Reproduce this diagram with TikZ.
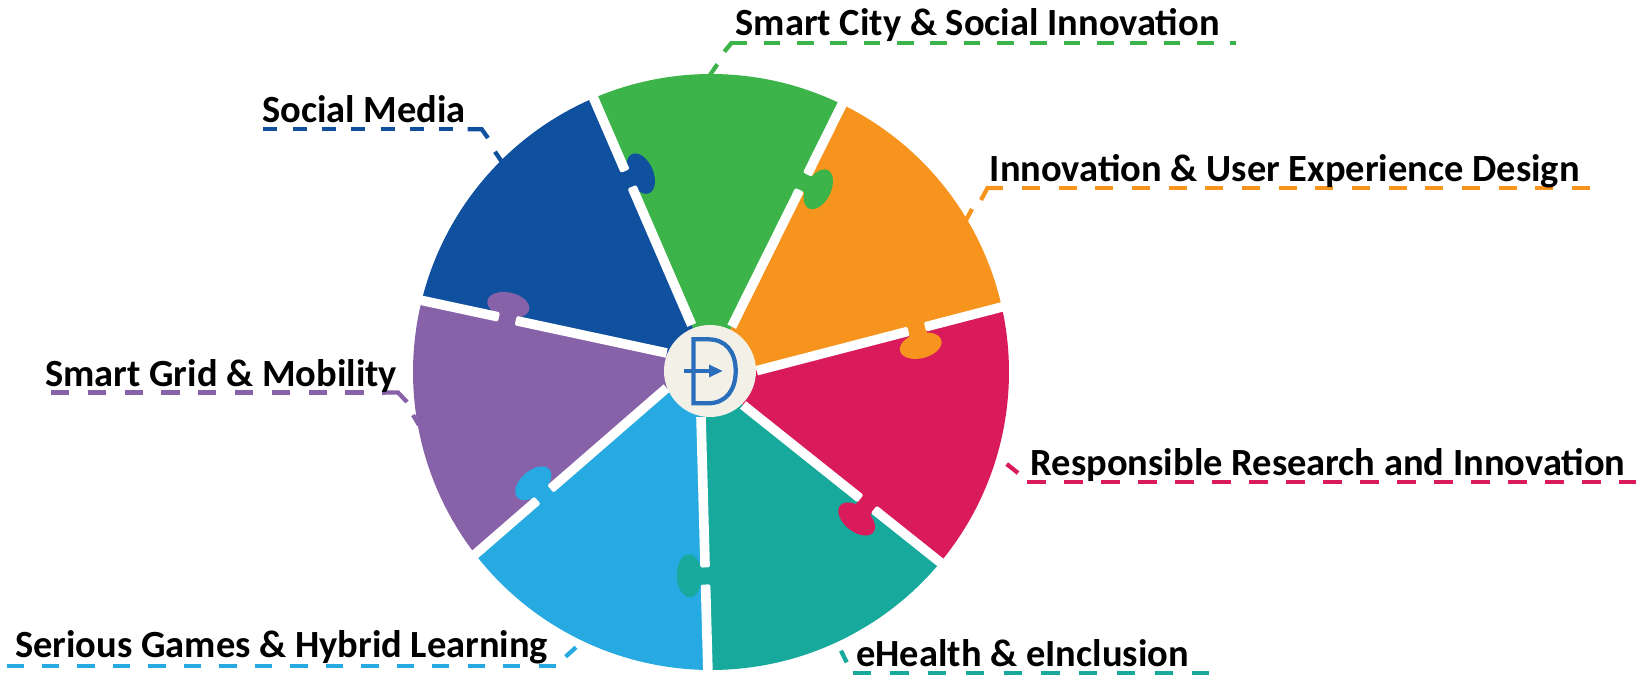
\documentclass[tikz,border=0pt]{standalone}
\usepackage{fontspec}
\setmainfont{Carlito}
\usetikzlibrary{calc,arrows.meta}
\definecolor{cblue}{HTML}{0F509F}
\definecolor{cgreen}{HTML}{3CB44A}
\definecolor{corange}{HTML}{F7941D}
\definecolor{cred}{HTML}{D91B5C}
\definecolor{cteal}{HTML}{16A99C}
\definecolor{clight}{HTML}{27AAE1}
\definecolor{cpurple}{HTML}{8862A8}
\definecolor{chub}{HTML}{F3F1E7}
\definecolor{clogo}{HTML}{2A6EBB}
\tikzset{
  lbl/.style={anchor=base west,inner sep=0pt,font=\fontsize{28.85}{34}\selectfont\bfseries,text=black},
  ldr/.style={line width=3.2pt,line cap=butt},
  sep/.style={draw=white,line width=7.2pt,line cap=butt},
  septip/.style={draw=white,line width=3pt,line cap=round},
}
% sector: from outer angle #1 to outer angle #2, inner point names
\newcommand\sector[5]{\fill[#5] (#3) -- ([shift={(#1:223.5pt)}]c) arc[start angle=#1,end angle=#2,radius=223.5pt] -- (#4) -- (hubc) -- cycle;}
% tab: gap point, ellipse centre, rotation, colour
\newcommand\tabshape[4]{%
  \draw[#4,line width=13.5pt,shorten <=-6pt] (#1) -- (#2);
  \fill[#4,shift={(#2)},rotate=#3] (0,0) ellipse[x radius=16pt,y radius=9.4pt];}
% one half of a spoke: blunt end with rounded corners at #1, running to #2
\newcommand\halfspoke[2]{%
  \draw[sep] (#1) -- (#2);
  \draw[septip] ($(#1)!2.1pt!90:(#2)$) -- ($(#1)!2.1pt!-90:(#2)$);}
% spoke: white line with a gap at point #3
\newcommand\spoke[3]{%
  \coordinate (tipin) at ($($(#1)!(#3)!(#2)$)!7.9pt!(#1)$);
  \coordinate (tipout) at ($($(#1)!(#3)!(#2)$)!7.9pt!(#2)$);
  \coordinate (rim) at ($(#2)!-4pt!(#1)$);
  \halfspoke{tipin}{#1}
  \halfspoke{tipout}{rim}}
\begin{document}
\begin{tikzpicture}[x=0.75pt,y=-0.75pt]
\useasboundingbox (0,0) rectangle (1642,677);
\fill[white] (0,0) rectangle (1642,677);
\coordinate (c) at (711,372);
\coordinate (hubc) at (710,371);
% inner ends
\coordinate (A1) at (756.7,370.7);
\coordinate (A2) at (731.7,326.7);
\coordinate (A3) at (691.7,325);
\coordinate (A4) at (666.7,353);
\coordinate (A5) at (666.7,388);
\coordinate (A6) at (701,417);
\coordinate (A7) at (743,405);
% outer ends
\coordinate (B1) at ([shift={(12.6:223.5pt)}]c);
\coordinate (B2) at ([shift={(63.9:223.5pt)}]c);
\coordinate (B3) at ([shift={(113.2:223.5pt)}]c);
\coordinate (B4) at ([shift={(166.1:223.5pt)}]c);
\coordinate (B5) at ([shift={(217.7:223.5pt)}]c);
\coordinate (B6) at ([shift={(269.4:223.5pt)}]c);
\coordinate (B7) at ([shift={(320.3:223.5pt)}]c);
% leaders
\draw[ldr,cgreen,dash pattern=on 12.4pt off 12.6pt] (730.4,42.7) -- (1236,42.7);
\draw[ldr,cgreen] (731.7,42.7) -- (724.3,51.7);
\draw[ldr,cgreen] (717.3,64.3) -- (708,78);
\draw[ldr,cblue,dash pattern=on 10.5pt off 11.5pt] (263.3,129.3) -- (479,129.3);
\draw[ldr,cblue] (467.7,129.3) -- (481.7,129.3) -- (488,138);
\draw[ldr,cblue] (495,151.7) -- (504,165);
\draw[ldr,corange,dash pattern=on 13.5pt off 14pt] (1590,188) -- (987.5,188);
\draw[ldr,corange] (1002,188) -- (987.5,188) -- (981,200);
\draw[ldr,corange] (972,209) -- (964,224);
\draw[ldr,cred,dash pattern=on 14pt off 13.75pt] (1027,481.7) -- (1636,481.7);
\draw[ldr,cred] (1006.7,464) -- (1018,473);
\draw[ldr,cpurple,dash pattern=on 13.7pt off 13.9pt] (51,392.5) -- (385,392.5);
\draw[ldr,cpurple] (382,392.5) -- (398,392.5) -- (407,402);
\draw[ldr,cpurple] (413,415) -- (419,425);
\draw[ldr,cteal,dash pattern=on 13.7pt off 14.6pt] (852.7,673.3) -- (1209.3,673.3);
\draw[ldr,cteal] (841,650.7) -- (846.7,662.3);
\draw[ldr,clight,dash pattern=on 13pt off 13.6pt] (6.5,665.7) -- (555.7,665.7);
\draw[ldr,clight] (576,647.3) -- (565.6,656.7);
% sectors
\sector{12.6}{63.9}{A1}{A2}{corange}
\sector{63.9}{113.2}{A2}{A3}{cgreen}
\sector{113.2}{166.1}{A3}{A4}{cblue}
\sector{166.1}{217.7}{A4}{A5}{cpurple}
\sector{217.7}{269.4}{A5}{A6}{clight}
\sector{269.4}{320.3}{A6}{A7}{cteal}
\sector{320.3}{372.6}{A7}{A1}{cred}
% tabs
\coordinate (G1) at (917,330);     \coordinate (E1) at (920.7,345.7);
\coordinate (G2) at (804,182.5);   \coordinate (E2) at (818.3,189.3);
\coordinate (G3) at (626,180);     \coordinate (E3) at (640.7,173.6);
\coordinate (G4) at (506.7,321.7); \coordinate (E4) at (508.3,305);
\coordinate (G5) at (543.8,494.5); \coordinate (E5) at (533.3,483.3);
\coordinate (G6) at (705.3,576);   \coordinate (E6) at (689.3,575.7);
\coordinate (G7) at (866,505.5);   \coordinate (E7) at (856.7,519);
\tabshape{G1}{E1}{14.5}{corange}
\tabshape{G2}{E2}{63.5}{cgreen}
\tabshape{G3}{E3}{113.4}{cblue}
\tabshape{G4}{E4}{167.8}{cpurple}
\tabshape{G5}{E5}{221}{clight}
\tabshape{G6}{E6}{-88.5}{cteal}
\tabshape{G7}{E7}{-38.6}{cred}
% white spokes
\spoke{A1}{B1}{G1}
\spoke{A2}{B2}{G2}
\spoke{A3}{B3}{G3}
\spoke{A4}{B4}{G4}
\spoke{A5}{B5}{G5}
\spoke{A6}{B6}{G6}
\spoke{A7}{B7}{G7}
% hub and logo
\fill[chub] (hubc) circle[radius=34.5pt];
\draw[clogo,line width=3.2pt] (693.5,339.3) -- (708,339.3) .. controls (726,339.3) and (735.7,352) .. (735.7,371) .. controls (735.7,390) and (726,403.3) .. (708,403.3) -- (693.5,403.3) -- cycle;
\draw[clogo,line width=2.8pt] (684,371) -- (712,371);
\fill[clogo] (722.5,371) -- (709,364.5) -- (709,377.5) -- cycle;
% labels
\node[lbl] (city) at (735.5,36) {Smart City \& Social Innovation};
\node[lbl] (media) at (262,123) {Social Media};
\node[lbl] (ux) at (989.5,181.5) {Innovation \& User Experience Design};
\node[lbl] (rri) at (1030.5,475.5) {Responsible Research and Innovation};
\node[lbl] (grid) at (45,386) {Smart Grid \& Mobility};
\node[lbl] (games) at (15,657.5) {Serious Games \& Hybrid Learning};
\node[lbl] (health) at (856,666.5) {eHealth \& eInclusion};
\end{tikzpicture}
\end{document}
